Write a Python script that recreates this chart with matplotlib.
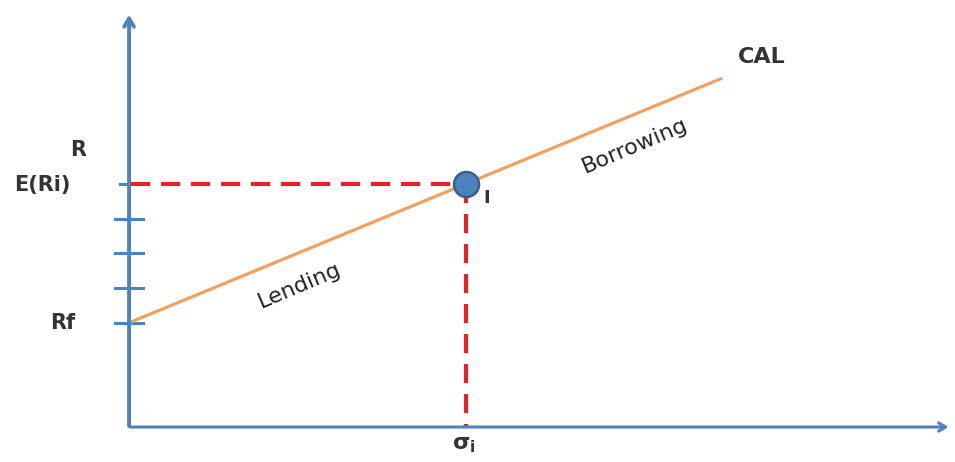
import matplotlib.pyplot as plt

plt.rcParams['font.family'] = ['DejaVu Sans']

# values (in return / risk units)
rf = 3.0
e_ri = 7.0
sigma_i = 10.0
cal_x = [0.0, 17.6]
tick_levels = [3, 4, 5, 6]
y_top = 11.95
x_end = 24.4

blue = '#4F81BD'
orange = '#F0A060'
red = '#E3232C'
txt = '#333333'

slope = (e_ri - rf) / sigma_i
cal_y = [rf + slope * x for x in cal_x]

fig = plt.figure(figsize=(9.55, 4.62), dpi=100)
ax = fig.add_axes([0, 0, 1, 1])
ax.set_xlim(-3.83, 24.51)
ax.set_ylim(-1.007, 12.29)
ax.axis('off')

# axes with arrows
ax.annotate('', xy=(0, y_top), xytext=(0, -0.05),
            arrowprops=dict(arrowstyle='->,head_length=0.6,head_width=0.35', color=blue, lw=2.8))
ax.annotate('', xy=(x_end, 0), xytext=(-0.05, 0),
            arrowprops=dict(arrowstyle='->,head_length=0.5,head_width=0.3', color=blue, lw=2.2))

# small ticks on y axis
for t in tick_levels:
    ax.plot([-0.42, 0.42], [t, t], color=blue, lw=2.2)
ax.plot([-0.27, 0.05], [e_ri, e_ri], color=blue, lw=2.2)

# CAL
ax.plot(cal_x, cal_y, color=orange, lw=2.3, solid_capstyle='butt')

# dashed guides
ax.plot([0.05, sigma_i], [e_ri, e_ri], color=red, lw=3, ls=(0, (4.6, 2.6)))
ax.plot([sigma_i, sigma_i], [e_ri, 0], color=red, lw=3, ls=(0, (4.6, 2.6)))

# portfolio point
ax.plot(sigma_i, e_ri, 'o', ms=18, mfc=blue, mec='#3A5F8F', mew=1.8, zorder=5)

ax.text(-1.51, 7.97, 'R', fontsize=15, fontweight='bold', color=txt, ha='center', va='center')
ax.text(-2.58, 6.96, 'E(Ri)', fontsize=15, fontweight='bold', color=txt, ha='center', va='center')
ax.text(-1.98, 2.99, 'Rf', fontsize=15, fontweight='bold', color=txt, ha='center', va='center')
ax.text(18.78, 10.65, 'CAL', fontsize=16, fontweight='bold', color=txt, ha='center', va='center')
ax.text(10.62, 6.6, 'I', fontsize=13, fontweight='bold', color=txt, ha='center', va='center')
ax.text(5.07, 4.06, 'Lending', fontsize=16, color='#222222', ha='center', va='center', rotation=23)
ax.text(15.01, 8.09, 'Borrowing', fontsize=16, color='#222222', ha='center', va='center', rotation=23)
ax.text(sigma_i - 0.06, -0.52, r'$\mathbf{\sigma}_\mathbf{i}$', fontsize=16, color=txt, ha='center', va='center')

fig.savefig('out.png', dpi=100)
